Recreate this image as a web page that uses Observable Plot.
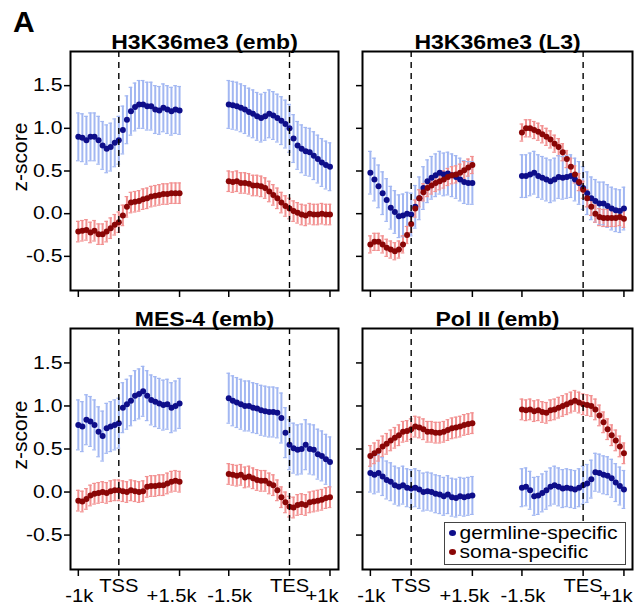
<!DOCTYPE html>
<html><head><meta charset="utf-8">
<script src="https://cdn.jsdelivr.net/npm/d3@7"></script>
<script src="https://cdn.jsdelivr.net/npm/@observablehq/plot@0.6"></script>
<style>
body{margin:0;background:#fff;}
#root{position:relative;width:638px;height:608px;font-family:"Liberation Sans",Arial,sans-serif;color:#000;overflow:hidden;}
.panel{position:absolute;}
.lbl{position:absolute;white-space:nowrap;}
</style></head><body><div id="root"></div>
<script>
// ---- data ----
const tssPos = [-1000,-900,-800,-700,-600,-500,-400,-300,-200,-100,0,100,200,300,400,500,600,700,800,900,1000,1100,1200,1300,1400,1500];
const tesPos = [-1500,-1400,-1300,-1200,-1100,-1000,-900,-800,-700,-600,-500,-400,-300,-200,-100,0,100,200,300,400,500,600,700,800,900,1000];
const titles = ["H3K36me3 (emb)", "H3K36me3 (L3)", "MES-4 (emb)", "Pol II (emb)"];
const seriesNames = ["germline-specific", "soma-specific"];
const yLabel = "z-score";

// H3K36me3 (emb)
const germ1TSS = [0.90,0.89,0.86,0.90,0.90,0.86,0.80,0.76,0.78,0.83,0.86,0.98,1.10,1.20,1.25,1.28,1.28,1.26,1.26,1.22,1.21,1.24,1.22,1.20,1.22,1.21];
const soma1TSS = [-0.21,-0.20,-0.19,-0.22,-0.20,-0.24,-0.24,-0.21,-0.17,-0.13,-0.10,-0.02,0.08,0.13,0.14,0.15,0.17,0.18,0.20,0.21,0.22,0.23,0.23,0.24,0.24,0.24];
const germ1TES = [1.28,1.27,1.26,1.24,1.22,1.19,1.17,1.14,1.12,1.14,1.17,1.15,1.12,1.09,1.05,1.00,0.88,0.80,0.76,0.73,0.72,0.68,0.64,0.60,0.57,0.55];
const soma1TES = [0.38,0.37,0.38,0.36,0.36,0.35,0.33,0.33,0.32,0.30,0.26,0.22,0.18,0.13,0.09,0.06,0.03,0.01,-0.01,-0.02,0.00,-0.01,-0.01,0.00,-0.01,-0.01];
// H3K36me3 (L3)
const germ2TSS = [0.48,0.40,0.32,0.24,0.16,0.07,0.02,-0.03,-0.02,0.00,-0.01,0.08,0.18,0.30,0.38,0.42,0.45,0.48,0.46,0.47,0.45,0.43,0.40,0.37,0.36,0.36];
const soma2TSS = [-0.36,-0.33,-0.33,-0.36,-0.40,-0.42,-0.44,-0.42,-0.36,-0.25,-0.12,0.06,0.18,0.25,0.30,0.33,0.36,0.38,0.40,0.43,0.45,0.46,0.48,0.51,0.54,0.57];
const germ2TES = [0.44,0.44,0.46,0.48,0.44,0.42,0.40,0.38,0.40,0.43,0.42,0.43,0.44,0.40,0.36,0.30,0.24,0.18,0.15,0.12,0.12,0.09,0.06,0.04,0.03,0.06];
const soma2TES = [0.95,1.00,1.00,0.98,0.96,0.93,0.90,0.87,0.82,0.78,0.72,0.64,0.55,0.46,0.37,0.28,0.18,0.08,0.00,-0.04,-0.05,-0.05,-0.05,-0.05,-0.04,-0.06];
// MES-4 (emb)
const germ3TSS = [0.78,0.76,0.84,0.82,0.78,0.70,0.65,0.74,0.76,0.78,0.80,0.98,1.02,1.06,1.12,1.14,1.17,1.12,1.07,1.05,1.03,1.01,1.02,0.98,1.00,1.03];
const soma3TSS = [-0.10,-0.11,-0.08,-0.04,-0.02,-0.01,0.00,-0.01,0.01,0.02,0.02,0.01,0.00,0.02,0.01,0.00,0.01,0.06,0.07,0.07,0.08,0.08,0.10,0.12,0.13,0.12];
const germ3TES = [1.09,1.06,1.04,1.02,1.00,1.00,0.98,0.97,0.95,0.94,0.93,0.93,0.92,0.86,0.69,0.55,0.51,0.49,0.50,0.55,0.50,0.49,0.44,0.42,0.38,0.35];
const soma3TES = [0.21,0.20,0.19,0.20,0.17,0.18,0.16,0.14,0.13,0.13,0.10,0.08,0.02,-0.06,-0.12,-0.17,-0.18,-0.15,-0.14,-0.15,-0.12,-0.11,-0.10,-0.09,-0.07,-0.06];
// Pol II (emb)
const germ4TSS = [0.22,0.20,0.22,0.18,0.14,0.12,0.08,0.06,0.08,0.05,0.04,0.05,0.03,0.00,0.01,0.00,-0.02,-0.03,-0.05,-0.03,-0.06,-0.07,-0.05,-0.06,-0.05,-0.04];
const soma4TSS = [0.42,0.45,0.48,0.53,0.56,0.60,0.63,0.66,0.70,0.71,0.73,0.76,0.75,0.73,0.70,0.70,0.69,0.69,0.70,0.72,0.74,0.75,0.76,0.78,0.79,0.80];
const germ4TES = [0.05,0.06,0.02,-0.05,-0.04,-0.01,0.02,0.06,0.08,0.06,0.04,0.05,0.04,0.03,0.05,0.08,0.10,0.15,0.23,0.22,0.20,0.19,0.16,0.11,0.07,0.03];
const soma4TES = [0.96,0.95,0.96,0.94,0.95,0.93,0.92,0.95,0.96,0.98,1.00,1.02,1.04,1.06,1.04,1.02,1.01,1.00,0.96,0.89,0.81,0.73,0.66,0.60,0.53,0.45];

// error-bar half widths per panel
const germErr = [0.28, 0.25, 0.29, 0.22];
const somaErr = [0.12, 0.10, 0.12, 0.12];

const yTicks = [-0.5, 0, 0.5, 1.0, 1.5];
const yTickLabels = ["-0.5", "0.0", "0.5", "1.0", "1.5"];
const xTickLabels = ["-1k", "TSS", "+1.5k", "-1.5k", "TES", "+1k"];
const xTickValues = [-1000, 0, 1500, -1500, 0, 1000];
const xTickRegion = ["TSS", "TSS", "TSS", "TES", "TES", "TES"];

// ---- layout / style ----
const TES_OFFSET = 4215;            // where the TES block sits on the shared axis
const colors = {dot: ["#0e0e8a", "#8a0606"], err: ["#a2b7f2", "#f29090"]};
const FONT = "Liberation Sans, Arial, sans-serif";

const seriesData = [
  [germ1TSS, germ1TES, soma1TSS, soma1TES],
  [germ2TSS, germ2TES, soma2TSS, soma2TES],
  [germ3TSS, germ3TES, soma3TSS, soma3TES],
  [germ4TSS, germ4TES, soma4TSS, soma4TES]
];

function buildRows(p) {
  const [gT, gE, sT, sE] = seriesData[p];
  const rows = [];
  const add = (pos, off, vals, s, err) => pos.forEach((x, i) => rows.push({x: x + off, y: vals[i], lo: vals[i] - err, hi: vals[i] + err, s}));
  add(tssPos, 0, gT, 0, germErr[p]);
  add(tesPos, TES_OFFSET, gE, 0, germErr[p]);
  add(tssPos, 0, sT, 1, somaErr[p]);
  add(tesPos, TES_OFFSET, sE, 1, somaErr[p]);
  return rows;
}

const xTicks = xTickLabels.map((label, i) => ({label, x: xTickValues[i] + (xTickRegion[i] === "TES" ? TES_OFFSET : 0), kind: i % 3}));

const layouts = [
  {left: 0,   top: 0,   width: 340, height: 300, mL: 70, mR: 2, mT: 51, mB: 10, yLab: true,  xLab: false},
  {left: 340, top: 0,   width: 298, height: 300, mL: 22, mR: 6, mT: 51, mB: 10, yLab: false, xLab: false},
  {left: 0,   top: 300, width: 340, height: 308, mL: 70, mR: 2, mT: 28, mB: 39, yLab: true,  xLab: true},
  {left: 340, top: 300, width: 298, height: 308, mL: 22, mR: 6, mT: 28, mB: 39, yLab: false, xLab: true}
];

const root = document.getElementById("root");

// horizontal stretch of texts (the reference's lettering is wide)
function stretch(svg) {
  svg.querySelectorAll("text").forEach(t => {
    const s = t.textContent;
    let f = 0;
    if (titles.includes(s)) f = 1.15;
    else if (xTickLabels.includes(s)) f = 1.12;
    else if (yTickLabels.includes(s)) f = 1.18;
    if (!f) return;
    const len = t.getComputedTextLength();
    if (len > 0) { t.setAttribute("textLength", (len * f).toFixed(1)); t.setAttribute("lengthAdjust", "spacingAndGlyphs"); }
  });
}

layouts.forEach((L, p) => {
  const rows = buildRows(p);
  const errRows = [...rows.filter(d => d.s === 0), ...rows.filter(d => d.s === 1)];
  const marks = [
    Plot.ruleX(errRows, {x: "x", y1: "lo", y2: "hi", stroke: d => colors.err[d.s], strokeWidth: 2}),
    Plot.ruleY(errRows, {y: "lo", x1: d => d.x - 45, x2: d => d.x + 45, stroke: d => colors.err[d.s], strokeWidth: 1.2}),
    Plot.ruleY(errRows, {y: "hi", x1: d => d.x - 45, x2: d => d.x + 45, stroke: d => colors.err[d.s], strokeWidth: 1.2}),
    Plot.dot(rows.filter(d => d.s === 0), {x: "x", y: "y", r: 3, fill: colors.dot[0], stroke: null}),
    Plot.dot(rows.filter(d => d.s === 1), {x: "x", y: "y", r: 3, fill: colors.dot[1], stroke: null}),
    Plot.ruleX([0, TES_OFFSET], {stroke: "#000", strokeWidth: 1.4, strokeDasharray: "6,5"}),
    Plot.frame({stroke: "#000", strokeWidth: 2}),
    Plot.axisY({ticks: yTicks, tickSize: 6, tickPadding: 2, strokeWidth: 1.5, fontSize: 18, label: null,
      tickFormat: L.yLab ? (d => yTickLabels[yTicks.indexOf(d)]) : (() => "")}),
    Plot.axisX({ticks: xTicks.map(d => d.x), tickSize: 7, strokeWidth: 1.5, label: null, tickFormat: () => ""}),
    Plot.text([titles[p]], {frameAnchor: "top", lineAnchor: "bottom", dy: -3, fontSize: 20, fontWeight: "bold"})
  ];
  if (L.yLab) {
    marks.push(Plot.text([yLabel], {frameAnchor: "left", rotate: -90, textAnchor: "middle", lineAnchor: "middle", dx: -50, dy: -14, fontSize: 21}));
  }
  if (L.xLab) {
    marks.push(
      Plot.text(xTicks.filter(d => d.kind === 0), {x: "x", text: "label", frameAnchor: "bottom", lineAnchor: "bottom", dy: 32, dx: 1, fontSize: 18}),
      Plot.text(xTicks.filter(d => d.kind === 1), {x: "x", text: "label", frameAnchor: "bottom", lineAnchor: "bottom", dy: 22, fontSize: 18}),
      Plot.text(xTicks.filter(d => d.kind === 2), {x: "x", text: "label", frameAnchor: "bottom", lineAnchor: "bottom", dy: 32, dx: -8, fontSize: 18})
    );
  }
  const svg = Plot.plot({
    width: L.width, height: L.height,
    marginLeft: L.mL, marginRight: L.mR, marginTop: L.mT, marginBottom: L.mB,
    x: {domain: [-1193, 5425], axis: null, label: null},
    y: {domain: [-0.9, 1.9], axis: null, label: null},
    style: {fontFamily: FONT, fontSize: "18px", color: "#000", background: "transparent", overflow: "visible"},
    marks
  });
  const div = document.createElement("div");
  div.className = "panel";
  Object.assign(div.style, {left: L.left + "px", top: L.top + "px", width: L.width + "px", height: L.height + "px"});
  div.appendChild(svg);
  root.appendChild(div);
  stretch(svg);
});

// panel letter
const A = document.createElement("div");
A.className = "lbl";
A.textContent = "A";
Object.assign(A.style, {left: "13px", top: "7px", fontSize: "30px", fontWeight: "bold", lineHeight: "30px"});
root.appendChild(A);

// legend (inside Pol II panel)
const leg = document.createElement("div");
Object.assign(leg.style, {position: "absolute", left: "444px", top: "522px", width: "182px", height: "43px",
  border: "1px solid #444", background: "#fff", boxSizing: "border-box"});
seriesNames.forEach((name, i) => {
  const row = document.createElement("div");
  Object.assign(row.style, {position: "absolute", left: "4px", top: (i * 19 + 1) + "px", height: "19px", lineHeight: "19px",
    whiteSpace: "nowrap", fontSize: "18px", transform: "scaleX(1.17)", transformOrigin: "left center"});
  const dot = document.createElement("span");
  Object.assign(dot.style, {display: "inline-block", width: "6px", height: "6px", borderRadius: "50%", background: colors.dot[i],
    marginRight: "3px", verticalAlign: "middle", position: "relative", top: "-1px"});
  row.appendChild(dot);
  row.appendChild(document.createTextNode(name));
  leg.appendChild(row);
});
root.appendChild(leg);
</script></body></html>
